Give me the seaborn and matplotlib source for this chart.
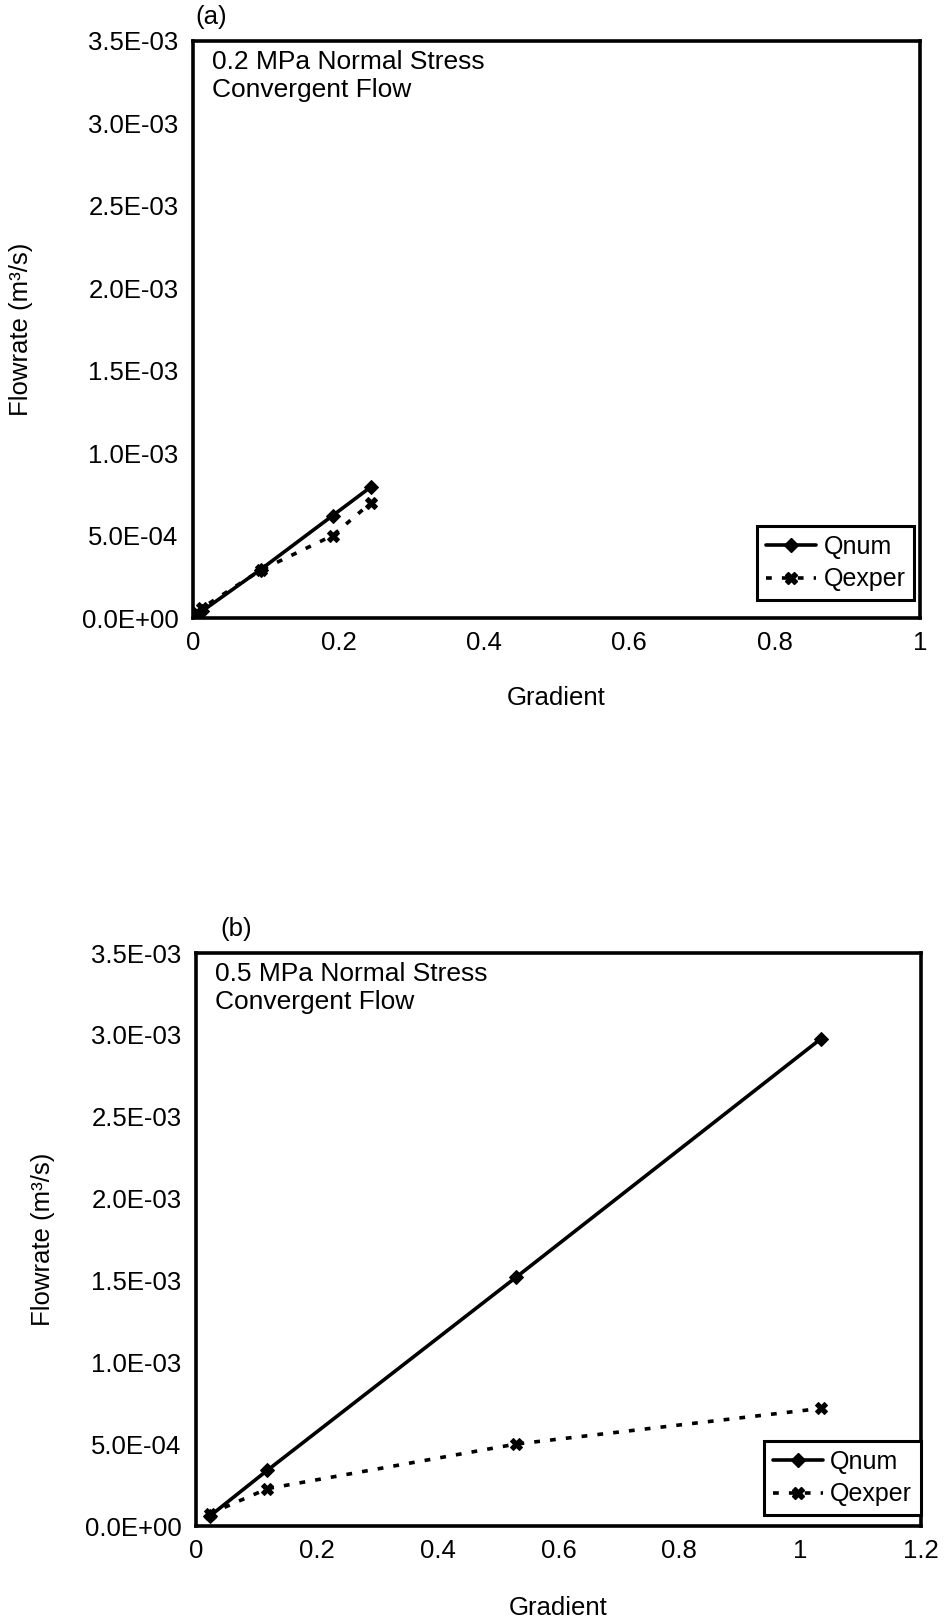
import matplotlib
matplotlib.use("Agg")
import matplotlib.pyplot as plt
import seaborn as sns
import pandas as pd
from matplotlib.lines import Line2D

# ---------------- data ----------------
grad_a_num = [0.005, 0.012, 0.093, 0.192, 0.245]
q_a_num = [0.015e-3, 0.040e-3, 0.294e-3, 0.621e-3, 0.796e-3]
grad_a_exp = [0.005, 0.012, 0.093, 0.192, 0.245]
q_a_exp = [0.030e-3, 0.060e-3, 0.290e-3, 0.500e-3, 0.700e-3]

grad_b_num = [0.023, 0.118, 0.530, 1.034]
q_b_num = [0.061e-3, 0.340e-3, 1.520e-3, 2.975e-3]
grad_b_exp = [0.023, 0.118, 0.529, 1.034]
q_b_exp = [0.075e-3, 0.228e-3, 0.500e-3, 0.718e-3]

y_ticks = [0.0, 0.5e-3, 1.0e-3, 1.5e-3, 2.0e-3, 2.5e-3, 3.0e-3, 3.5e-3]
y_tick_labels = ["0.0E+00", "5.0E-04", "1.0E-03", "1.5E-03", "2.0E-03",
                 "2.5E-03", "3.0E-03", "3.5E-03"]
x_ticks_a = [0, 0.2, 0.4, 0.6, 0.8, 1.0]
x_tick_labels_a = ["0", "0.2", "0.4", "0.6", "0.8", "1"]
x_ticks_b = [0, 0.2, 0.4, 0.6, 0.8, 1.0, 1.2]
x_tick_labels_b = ["0", "0.2", "0.4", "0.6", "0.8", "1", "1.2"]

series_names = ["Qnum", "Qexper"]
panel_labels = ["(a)", "(b)"]
panel_notes = [["0.2 MPa Normal Stress", "Convergent Flow"],
               ["0.5 MPa Normal Stress", "Convergent Flow"]]
x_label = "Gradient"
y_label = "Flowrate (m³/s)"

# ---------------- style ----------------
sns.set_theme(style="white")
plt.rcParams["font.family"] = ["Liberation Sans", "DejaVu Sans"]
plt.rcParams["text.color"] = "black"
plt.rcParams["axes.labelcolor"] = "black"

W, H = 945, 1619
fig = plt.figure(figsize=(W / 100, H / 100), dpi=100)

# axes rectangles in pixels: left, right, top, bottom
rects = [(193, 920, 41, 618), (196, 921, 953, 1526)]
axes = []
for (l, r, t, b) in rects:
    ax = fig.add_axes([l / W, 1 - b / H, (r - l) / W, (b - t) / H])
    axes.append(ax)

DOT = (0, (1.6, 2.8))
num_kw = dict(color="black", linewidth=2.6, marker="D", markersize=7.5,
              markeredgecolor="black", markerfacecolor="black")
exp_kw = dict(color="black", linewidth=2.6, marker="X", markersize=8,
              markeredgecolor="black", markerfacecolor="black")

panels = [
    (grad_a_num, q_a_num, grad_a_exp, q_a_exp, x_ticks_a, x_tick_labels_a, 1.0,
     (0.992, 0.031), 212 - 193, 211, 33, 68),
    (grad_b_num, q_b_num, grad_b_exp, q_b_exp, x_ticks_b, x_tick_labels_b, 1.2,
     (1.0, 0.019), 215 - 196, 236, 55, 70),
]

for i, (ax, p) in enumerate(zip(axes, panels)):
    gx_n, q_n, gx_e, q_e, xt, xtl, xmax, leg_anchor, note_dx, lab_x, ylab_x, xlab_dy = p
    df_n = pd.DataFrame({"Gradient": gx_n, "Q": q_n})
    df_e = pd.DataFrame({"Gradient": gx_e, "Q": q_e})
    sns.lineplot(data=df_e, x="Gradient", y="Q", ax=ax, sort=False,
                 linestyle=DOT, dash_capstyle="butt", **exp_kw)
    sns.lineplot(data=df_n, x="Gradient", y="Q", ax=ax, sort=False,
                 linestyle="-", **num_kw)

    ax.set_xlim(0, xmax)
    ax.set_ylim(0, 3.5e-3)
    ax.set_xticks(xt)
    ax.set_xticklabels(xtl)
    ax.set_yticks(y_ticks)
    ax.set_yticklabels(y_tick_labels)
    ax.tick_params(axis="both", direction="inout", length=13, width=2.2,
                   colors="black", labelsize=18.5, pad=4)
    ax.tick_params(axis="x", pad=3)
    for s in ax.spines.values():
        s.set_visible(True)
        s.set_color("black")
        s.set_linewidth(2.6)
    ax.set_xlabel(x_label, fontsize=18.5, color="black")
    ax.set_ylabel(y_label, fontsize=18.5, color="black")
    l, r, t, b = rects[i]
    ax.xaxis.set_label_coords(0.5, -xlab_dy / (b - t))
    ax.yaxis.set_label_coords((ylab_x - l) / (r - l), 0.5)

    # notes
    ax.text(note_dx / (r - l), 1 - 21 / (b - t), panel_notes[i][0],
            transform=ax.transAxes, fontsize=19, va="center", ha="left",
            color="black")
    ax.text(note_dx / (r - l), 1 - 49 / (b - t), panel_notes[i][1],
            transform=ax.transAxes, fontsize=19, va="center", ha="left",
            color="black")
    # panel label
    ax.text((lab_x - l) / (r - l), 1 + 24 / (b - t), panel_labels[i],
            transform=ax.transAxes, fontsize=18.5, va="center", ha="center",
            color="black")

    handles = [
        Line2D([], [], linestyle="-", **num_kw),
        Line2D([], [], linestyle=DOT, dash_capstyle="butt", **exp_kw),
    ]
    leg = ax.legend(handles, series_names, loc="lower right",
                    bbox_to_anchor=leg_anchor, bbox_transform=ax.transAxes,
                    fontsize=18, frameon=True, fancybox=False, framealpha=1,
                    edgecolor="black", borderaxespad=0, handlelength=2.0,
                    handletextpad=0.3, labelspacing=0.35, borderpad=0.35)
    leg.get_frame().set_linewidth(2.2)
    for t_ in leg.get_texts():
        t_.set_color("black")

fig.savefig("out.png", dpi=100, facecolor="white")
